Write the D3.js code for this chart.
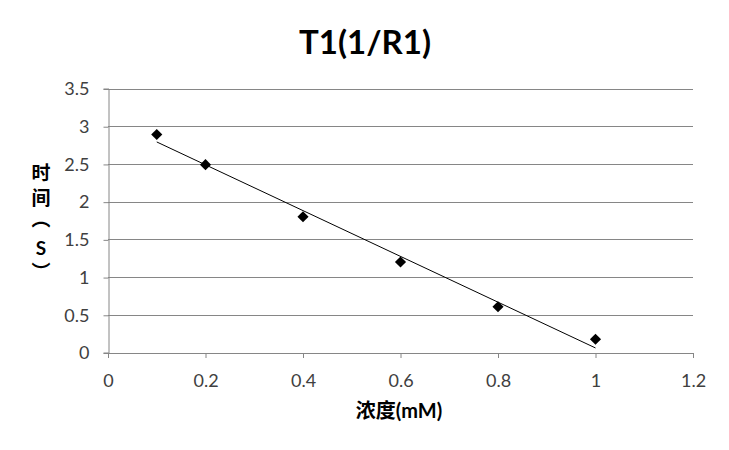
<!DOCTYPE html>
<html><head><meta charset="utf-8">
<script src="https://cdn.jsdelivr.net/npm/d3@7"></script>
<style>body{margin:0;background:#fff}svg{display:block}</style>
</head><body>
<svg id="c" width="729" height="450"></svg>
<script>
const xValues = [0.1, 0.2, 0.4, 0.6, 0.8, 1.0];
const yValues = [2.89, 2.49, 1.80, 1.20, 0.607, 0.175];
const xTicks = [0, 0.2, 0.4, 0.6, 0.8, 1, 1.2];
const yTicks = [0, 0.5, 1, 1.5, 2, 2.5, 3, 3.5];
const title = "T1(1/R1)";
const xTitle = "浓度(mM)";
const yTitleChars = ["时", "间", "︵", "S", "︶"];

const svg = d3.select("#c");
const L = 108, R = 693, T = 88.5, B = 352.5;
const x = d3.scaleLinear().domain([0, 1.2]).range([L, R]);
const y = d3.scaleLinear().domain([0, 3.5]).range([B, T]);
const grid = "#868686";
const font = "Lato, 'Noto Sans CJK SC', sans-serif";

// gridlines
svg.append("g").selectAll("line").data(yTicks.filter(d => d > 0)).join("line")
  .attr("x1", L).attr("x2", R).attr("y1", d => Math.round(y(d)) + 0.5).attr("y2", d => Math.round(y(d)) + 0.5)
  .attr("stroke", grid).attr("stroke-width", 1);

// y axis
const yAxis = svg.append("g").attr("transform", `translate(${L + 0.5},0)`)
  .call(d3.axisLeft(y).tickValues(yTicks).tickSize(5).tickPadding(14).tickFormat(d => String(d)));
// x axis
const xAxis = svg.append("g").attr("transform", `translate(0,${B + 0.5})`)
  .call(d3.axisBottom(x).tickValues(xTicks).tickSize(5).tickPadding(16).tickFormat(d => String(d)));
[yAxis, xAxis].forEach(g => {
  g.select(".domain").attr("stroke", grid);
  g.selectAll(".tick line").attr("stroke", grid);
  g.selectAll(".tick text").attr("fill", "#404040").attr("font-size", 18).attr("font-family", font);
});
yAxis.selectAll(".tick line").attr("y1", 0.5).attr("y2", 0.5);
yAxis.selectAll(".tick text").attr("dy", "0.35em");

// trendline (least squares)
const n = xValues.length;
const mx = d3.mean(xValues), my = d3.mean(yValues);
let sxy = 0, sxx = 0;
for (let i = 0; i < n; i++) { sxy += (xValues[i]-mx)*(yValues[i]-my); sxx += (xValues[i]-mx)**2; }
const slope = sxy / sxx, icpt = my - slope * mx;
const x0 = d3.min(xValues), x1 = d3.max(xValues);
svg.append("line")
  .attr("x1", x(x0)).attr("y1", y(icpt + slope * x0))
  .attr("x2", x(x1)).attr("y2", y(icpt + slope * x1))
  .attr("stroke", "#000").attr("stroke-width", 1);

// markers
const diamond = d3.symbol().type(d3.symbolSquare).size(62);
svg.append("g").selectAll("path").data(xValues.map((d, i) => [d, yValues[i]])).join("path")
  .attr("d", diamond)
  .attr("transform", d => `translate(${x(d[0])},${y(d[1])}) rotate(45)`)
  .attr("fill", "#000");

// title
svg.append("text").attr("x", 365).attr("y", 54).attr("text-anchor", "middle")
  .attr("font-family", font).attr("font-weight", "bold").attr("font-size", 33).attr("fill", "#000")
  .text(title);

// x title
svg.append("text").attr("x", 399).attr("y", 418).attr("text-anchor", "middle")
  .attr("font-family", font).attr("font-weight", "bold").attr("font-size", 20).attr("fill", "#000")
  .text(xTitle);

// y title (stacked)
const yt = svg.append("text").attr("text-anchor", "middle")
  .attr("font-family", font).attr("font-weight", "bold").attr("font-size", 19).attr("fill", "#000");
const yPos = [180, 205, 226, 255, 279];
yt.selectAll("tspan").data(yTitleChars).join("tspan")
  .attr("x", 41).attr("y", (d, i) => yPos[i]).text(d => d);
</script>
</body></html>
